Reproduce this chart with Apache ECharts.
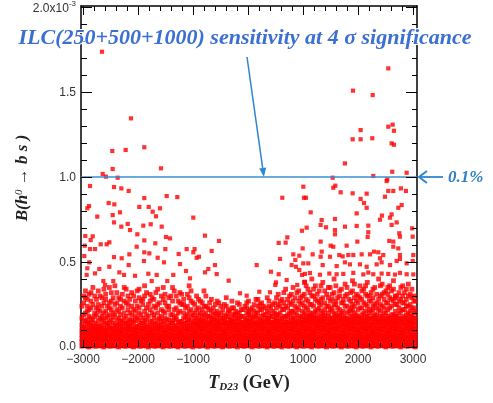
<!DOCTYPE html>
<html><head><meta charset="utf-8">
<script src="https://cdn.jsdelivr.net/npm/echarts@6/dist/echarts.min.js"></script>
<style>html,body{margin:0;padding:0;background:#fff}#c{width:493px;height:403px}</style>
</head><body><div id="c"></div>
<script>
// axis ticks / labels
const xTickStep = 1000, xMinorStep = 200;
const yTickStep = 0.5, yMinorStep = 0.1;
const yTopLabel = '2.0x10{s|-3}';
const sensitivity = 1.0; // in units of 1e-3 (0.1%)
const titleText = 'ILC(250+500+1000) sensitivity at 4 \u03c3 significance';
const lineLabel = '0.1%';

// points above the sensitivity line  [T_D23 (GeV), B x 1e3]
const highPts = [[-2654,1.737],[-2127,1.345],[-2467,1.153],[-2224,1.159],[-1885,1.175],[-2460,1.047],[-1582,1.051],[-2642,1.018],[-2582,1.002],[-2369,0.996],
[2551,1.639],[1909,1.508],[2267,1.482],[2630,1.308],[2551,1.296],[2654,1.272],[2048,1.276],[1903,1.222],[2048,1.222],[2260,1.228],[2612,1.198],[2654,1.19],[1763,1.08],[2623,1.031],[2885,1.025],[1540,0.996],[2278,1.006],[2533,0.986]];

// scattered points in the middle band
const midPts = [[-2872,.947],[-2436,.941],[-2303,.933],[-2169,.918],[-1478,.888],[-1285,.882],[-1885,.876],[-2533,.847],[-2430,.839],[-2890,.829],[-2921,.816],[-1976,.824],[-1805,.824],[-1600,.816],[-2327,.792],[-2460,.776],[-1733,.796],[-994,.761],[-2740,.767],[-1673,.769],[-2436,.733],[-2187,.724],[-1769,.722],[-1903,.714],[-2303,.708],[-1569,.708],[-2145,.688],[-2012,.663],[-2958,.653],[-2823,.651],[-1491,.647],[-1418,.639],[-2860,.629],[-1885,.627],[-2521,.616],[-2569,.604],[-2678,.604],[-1685,.61],[-2969,.596],[-2024,.59],[-2872,.576],[-2781,.576],[-1503,.576],[-1115,.576],[-1260,.547],[-2157,.545],[-2976,.535],[-1885,.557],[-1794,.551],[-994,.557],[-2436,.529],[-2296,.522],[-1642,.525],[-2885,.498],[-2169,.482],[-1891,.506],[-1527,.498],[-1236,.488],[-2781,.433],[-2521,.472],[-2921,.463],[-2703,.459],[-2339,.439],[-2254,.424],[-2054,.419],[-1812,.431],[-1660,.424],[-1358,.424],[-1127,.447],[-2933,.424],[-2630,.388],[-2449,.388],[-2599,.365],[-1751,.388],[-1467,.388],[-1054,.404],
[1006,.943],[624,.878],[1018,.878],[-782,.655],[-527,.624],[715,.645],[558,.612],[685,.614],[982,.684],[-970,.576],[-660,.565],[-891,.531],[994,.58],[-933,.525],[824,.545],[933,.537],[582,.518],[860,.512],[-600,.482],[158,.482],[794,.482],[873,.472],[-721,.459],[-782,.439],[-569,.429],[418,.443],[558,.428],[933,.453],[982,.424],[-351,.39],[703,.394],[509,.38],[497,.365],[896,.365],[1036,.384],[-145,.316],[-24,.302],[206,.325],[400,.322],
[2521,.976],[1551,.937],[1588,.949],[2551,.918],[2642,.918],[2781,.933],[2872,.918],[1685,.91],[1903,.904],[2158,.902],[1054,.878],[2490,.884],[2048,.871],[2109,.847],[2158,.819],[2733,.819],[2794,.835],[1140,.792],[1976,.786],[2612,.78],[2582,.761],[2436,.773],[2400,.749],[1340,.747],[1321,.718],[1582,.753],[1418,.704],[1763,.708],[1976,.712],[2188,.714],[2612,.718],[2703,.733],[2985,.698],[1067,.702],[1582,.688],[1582,.663],[2188,.675],[2176,.647],[2751,.669],[2763,.649],[2994,.649],[1321,.62],[1988,.62],[2569,.624],[2642,.62],[1503,.596],[1551,.59],[1794,.596],[2642,.59],[2733,.58],[1176,.545],[1340,.561],[1321,.531],[1491,.531],[1660,.541],[1721,.533],[1824,.541],[1915,.541],[2067,.545],[2218,.545],[2291,.561],[2369,.557],[2460,.541],[2400,.522],[2763,.541],[2763,.518],[3006,.541],[1006,.492],[1097,.492],[1358,.482],[1612,.476],[1763,.498],[1854,.486],[2036,.486],[2158,.472],[2339,.486],[2430,.498],[2582,.482],[2703,.506],[2885,.492],[2995,.506],
[1036,.43],[1127,.435],[1309,.425],[1479,.432],[1612,.428],[1733,.43],[1915,.436],[2097,.427],[2188,.438],[2278,.428],[2430,.432],[2551,.43],[2672,.426],[2763,.436],[2885,.428],[3006,.427]];

// dense lower band, read column by column: [T_D23, [B values]]
const denseCols = [
[-3020,[.005,.03,.05,.075,.1,.13,.17,.24]],
[-2955,[.01,.025,.045,.07,.09,.115,.15,.2,.29,.33]],
[-2890,[0,.02,.04,.065,.085,.11,.14,.18,.22,.31]],
[-2820,[.01,.03,.05,.07,.095,.12,.16,.25,.35]],
[-2755,[.005,.02,.045,.06,.08,.105,.13,.19,.23,.28]],
[-2690,[.01,.035,.055,.075,.1,.125,.17,.21,.3]],
[-2620,[0,.025,.04,.065,.09,.11,.15,.2,.26,.34]],
[-2555,[.01,.03,.05,.07,.095,.12,.14,.18,.24]],
[-2485,[.005,.02,.045,.065,.085,.11,.16,.22,.27,.32]],
[-2420,[.01,.035,.055,.08,.1,.13,.19,.25,.36]],
[-2350,[0,.025,.045,.06,.085,.105,.135,.17,.21,.29]],
[-2285,[.01,.03,.05,.075,.095,.12,.15,.23,.31]],
[-2215,[.005,.02,.04,.065,.09,.115,.14,.18,.26,.34]],
[-2150,[.01,.03,.055,.07,.1,.125,.16,.2,.28]],
[-2080,[0,.025,.045,.065,.085,.11,.145,.22,.3]],
[-2015,[.01,.035,.05,.075,.095,.12,.17,.24,.33]],
[-1945,[.005,.02,.045,.06,.09,.11,.14,.19,.27]],
[-1880,[.01,.03,.05,.07,.1,.125,.155,.21,.3,.36]],
[-1810,[0,.025,.04,.065,.085,.115,.18,.25]],
[-1745,[.01,.03,.055,.075,.095,.12,.15,.2,.29]],
[-1675,[.005,.02,.045,.065,.09,.11,.14,.23,.32]],
[-1610,[.01,.035,.05,.07,.1,.13,.17,.26]],
[-1540,[0,.025,.045,.06,.085,.115,.15,.21,.28,.35]],
[-1475,[.01,.03,.055,.075,.095,.12,.16,.24]],
[-1405,[.005,.02,.04,.065,.09,.11,.14,.19,.3]],
[-1340,[.01,.03,.05,.07,.1,.125,.17,.22,.33]],
[-1270,[0,.025,.045,.065,.085,.11,.145,.2,.27]],
[-1205,[.01,.035,.055,.075,.095,.12,.15,.25,.31]],
[-1135,[.005,.02,.045,.06,.09,.115,.14,.18,.23]],
[-1070,[.01,.03,.05,.07,.1,.125,.16,.21,.29,.36]],
[-1000,[0,.025,.04,.065,.085,.11,.14,.19,.26]],
[-935,[.01,.03,.055,.075,.095,.12,.14,.17,.22,.3]],
[-865,[.005,.02,.045,.065,.09,.11,.135,.16,.2,.27]],
[-800,[.01,.035,.05,.07,.1,.125,.15,.19,.24,.33]],
[-730,[0,.025,.045,.06,.085,.115,.14,.18,.23]],
[-665,[.01,.03,.055,.075,.095,.12,.145,.17,.21,.28]],
[-595,[.005,.02,.04,.065,.09,.11,.13,.16,.2,.25]],
[-530,[.01,.03,.05,.07,.1,.125,.15,.19,.26]],
[-460,[0,.025,.045,.065,.085,.105,.135,.17,.22]],
[-395,[.01,.035,.055,.075,.095,.12,.14,.18,.24,.29]],
[-325,[.005,.02,.045,.06,.09,.115,.14,.16,.21]],
[-260,[.01,.03,.05,.07,.1,.125,.15,.19,.23]],
[-190,[0,.025,.04,.065,.085,.11,.135,.17,.2,.26]],
[-125,[.01,.03,.055,.075,.095,.12,.145,.18,.22]],
[-55,[.005,.02,.045,.065,.09,.11,.13,.16,.24]],
[10,[.01,.035,.05,.07,.1,.125,.15,.19,.21,.27]],
[80,[0,.025,.045,.06,.085,.115,.14,.17,.23]],
[145,[.01,.03,.055,.075,.095,.12,.14,.18,.2,.28]],
[215,[.005,.02,.04,.065,.09,.11,.135,.16,.22,.25]],
[280,[.01,.03,.05,.07,.1,.125,.15,.19,.24]],
[350,[0,.025,.045,.065,.085,.11,.14,.17,.21,.29]],
[415,[.01,.035,.055,.075,.095,.12,.145,.18,.23]],
[485,[.005,.02,.045,.06,.09,.115,.14,.16,.2,.26]],
[550,[.01,.03,.05,.07,.1,.125,.15,.19,.25,.31]],
[620,[0,.025,.04,.065,.085,.11,.135,.17,.22,.28]],
[685,[.01,.03,.055,.075,.095,.12,.145,.18,.24,.34]],
[755,[.005,.02,.045,.065,.09,.11,.14,.2,.26,.3]],
[820,[.01,.035,.05,.07,.1,.125,.15,.17,.21,.27,.35]],
[890,[0,.025,.045,.06,.085,.115,.14,.19,.23,.32]],
[955,[.01,.03,.055,.075,.095,.12,.145,.18,.25,.29]],
[1025,[.005,.02,.04,.065,.09,.11,.135,.16,.2,.24,.31,.38]],
[1090,[.01,.03,.05,.07,.1,.125,.15,.175,.22,.27,.34]],
[1160,[0,.025,.045,.065,.085,.11,.14,.165,.19,.25,.3,.4]],
[1225,[.01,.035,.055,.075,.095,.12,.145,.17,.21,.28,.36]],
[1295,[.005,.02,.045,.06,.09,.115,.14,.16,.23,.26,.33]],
[1360,[.01,.03,.05,.07,.1,.125,.15,.18,.2,.29,.38]],
[1430,[0,.025,.04,.065,.085,.11,.135,.165,.24,.31]],
[1495,[.01,.03,.055,.075,.095,.12,.145,.17,.22,.27,.35]],
[1565,[.005,.02,.045,.065,.09,.11,.14,.16,.19,.25,.32,.4]],
[1630,[.01,.035,.05,.07,.1,.125,.15,.18,.23,.29]],
[1700,[0,.025,.045,.06,.085,.115,.14,.165,.2,.26,.34]],
[1765,[.01,.03,.055,.075,.095,.12,.145,.17,.24,.3,.37]],
[1835,[.005,.02,.04,.065,.09,.11,.135,.16,.21,.28]],
[1900,[.01,.03,.05,.07,.1,.125,.15,.18,.22,.25,.33,.39]],
[1970,[0,.025,.045,.065,.085,.11,.14,.165,.19,.27,.31]],
[2035,[.01,.035,.055,.075,.095,.12,.145,.17,.23,.29,.36]],
[2105,[.005,.02,.045,.06,.09,.115,.14,.16,.2,.26,.34]],
[2170,[.01,.03,.05,.07,.1,.125,.15,.18,.24,.3,.38]],
[2240,[0,.025,.04,.065,.085,.11,.135,.165,.21,.27,.32]],
[2305,[.01,.03,.055,.075,.095,.12,.145,.17,.19,.25,.35]],
[2375,[.005,.02,.045,.065,.09,.11,.14,.16,.22,.28,.4]],
[2440,[.01,.035,.05,.07,.1,.125,.15,.18,.24,.31,.37]],
[2510,[0,.025,.045,.06,.085,.115,.14,.165,.2,.26,.33]],
[2575,[.01,.03,.055,.075,.095,.12,.145,.17,.23,.29,.36]],
[2645,[.005,.02,.04,.065,.09,.11,.135,.16,.19,.27,.34,.39]],
[2710,[.01,.03,.05,.07,.1,.125,.15,.18,.25,.3]],
[2780,[0,.025,.045,.065,.085,.11,.14,.165,.21,.28,.35]],
[2845,[.01,.035,.055,.075,.095,.12,.145,.17,.22,.26,.32]],
[2915,[.005,.02,.045,.06,.09,.115,.14,.16,.2,.24,.3,.37]],
[2980,[.01,.03,.05,.07,.1,.125,.15,.18,.23,.29,.34]],
[3040,[0,.025,.045,.065,.085,.11,.14,.17,.21,.27]]
];

// second pass of the dense band, between the columns above
const denseCols2 = [
[-2988,[.015,.04,.06,.085,.105,.12,.155,.19,.26,.3]],
[-2922,[.005,.035,.055,.08,.1,.135,.16,.21,.24,.28]],
[-2855,[.015,.04,.06,.08,.105,.125,.145,.17,.23,.27,.32]],
[-2788,[.005,.03,.055,.085,.11,.14,.18,.2,.3]],
[-2722,[.015,.045,.065,.08,.1,.12,.155,.22,.25,.33]],
[-2655,[.005,.035,.06,.085,.105,.13,.16,.18,.24,.29]],
[-2588,[.015,.04,.06,.08,.1,.135,.17,.21,.28,.31]],
[-2520,[.005,.03,.055,.075,.105,.125,.15,.19,.23,.26,.35]],
[-2452,[.015,.045,.065,.09,.11,.14,.175,.2,.29]],
[-2385,[.005,.035,.06,.08,.105,.13,.16,.22,.26,.32]],
[-2318,[.015,.04,.06,.085,.1,.125,.155,.19,.24,.28]],
[-2250,[.005,.03,.055,.075,.105,.14,.17,.2,.27,.35]],
[-2182,[.015,.045,.065,.09,.11,.13,.15,.22,.25,.3]],
[-2115,[.005,.035,.06,.08,.105,.135,.16,.19,.24,.32]],
[-2048,[.015,.04,.06,.085,.1,.12,.155,.18,.21,.27]],
[-1980,[.005,.03,.055,.075,.105,.13,.16,.2,.23,.29,.34]],
[-1912,[.015,.045,.065,.09,.11,.14,.17,.25,.28]],
[-1845,[.005,.035,.06,.08,.105,.13,.16,.19,.23,.32]],
[-1778,[.015,.04,.06,.085,.1,.125,.15,.22,.27,.31]],
[-1710,[.005,.03,.055,.075,.105,.135,.17,.19,.24,.28]],
[-1642,[.015,.045,.065,.09,.11,.13,.16,.2,.25,.34]],
[-1575,[.005,.035,.06,.08,.105,.125,.15,.18,.22,.3]],
[-1508,[.015,.04,.06,.085,.1,.135,.17,.2,.26,.31]],
[-1440,[.005,.03,.055,.075,.105,.13,.16,.22,.24,.29]],
[-1372,[.015,.045,.065,.09,.11,.14,.155,.19,.27,.35]],
[-1305,[.005,.035,.06,.08,.105,.125,.16,.18,.23,.3]],
[-1238,[.015,.04,.06,.085,.1,.13,.15,.21,.26,.32]],
[-1170,[.005,.03,.055,.075,.105,.135,.17,.2,.25,.28]],
[-1102,[.015,.045,.065,.09,.11,.14,.16,.19,.24,.31]],
[-1035,[.005,.035,.06,.08,.105,.125,.15,.18,.22,.27,.33]],
[-968,[.015,.04,.06,.085,.1,.13,.15,.17,.2,.25]],
[-900,[.005,.03,.055,.075,.105,.125,.14,.16,.19,.23,.28]],
[-832,[.015,.045,.065,.09,.11,.13,.155,.18,.22,.26]],
[-765,[.005,.035,.06,.08,.105,.125,.145,.17,.2,.24,.3]],
[-698,[.015,.04,.06,.085,.1,.13,.15,.18,.22,.26]],
[-630,[.005,.03,.055,.075,.105,.125,.145,.165,.19,.23]],
[-562,[.015,.045,.065,.09,.11,.135,.155,.18,.21,.27]],
[-495,[.005,.035,.06,.08,.105,.125,.145,.17,.2,.24]],
[-428,[.015,.04,.06,.085,.1,.13,.15,.16,.19,.25]],
[-360,[.005,.03,.055,.075,.105,.125,.145,.175,.2,.22]],
[-292,[.015,.045,.065,.09,.11,.135,.155,.18,.23,.27]],
[-225,[.005,.035,.06,.08,.105,.125,.145,.165,.19,.21]],
[-158,[.015,.04,.06,.085,.1,.13,.15,.17,.2,.25]],
[-90,[.005,.03,.055,.075,.105,.125,.145,.18,.22]],
[-22,[.015,.045,.065,.09,.11,.135,.155,.17,.2,.23,.26]],
[45,[.005,.035,.06,.08,.105,.125,.145,.165,.19,.22]],
[112,[.015,.04,.06,.085,.1,.13,.15,.18,.21,.25]],
[180,[.005,.03,.055,.075,.105,.125,.145,.17,.2,.24,.28]],
[248,[.015,.045,.065,.09,.11,.135,.155,.18,.22,.26]],
[315,[.005,.035,.06,.08,.105,.125,.145,.165,.19,.23]],
[382,[.015,.04,.06,.085,.1,.13,.15,.17,.2,.24,.27]],
[450,[.005,.03,.055,.075,.105,.125,.145,.18,.21,.25]],
[518,[.015,.045,.065,.09,.11,.135,.155,.17,.19,.23,.29]],
[585,[.005,.035,.06,.08,.105,.125,.145,.165,.2,.24,.27]],
[652,[.015,.04,.06,.085,.1,.13,.15,.18,.22,.26,.32]],
[720,[.005,.03,.055,.075,.105,.125,.145,.17,.19,.23,.28]],
[788,[.015,.045,.065,.09,.11,.135,.155,.18,.21,.25,.31]],
[855,[.005,.035,.06,.08,.105,.125,.145,.165,.2,.24,.29]],
[922,[.015,.04,.06,.085,.1,.13,.15,.17,.22,.27,.33]],
[990,[.005,.03,.055,.075,.105,.125,.145,.16,.18,.21,.26,.3]],
[1058,[.015,.045,.065,.09,.11,.135,.155,.17,.19,.23,.28,.36]],
[1125,[.005,.035,.06,.08,.105,.125,.145,.16,.18,.2,.25,.32]],
[1192,[.015,.04,.06,.085,.1,.13,.15,.175,.2,.24,.3,.34]],
[1260,[.005,.03,.055,.075,.105,.125,.145,.17,.19,.22,.27,.31]],
[1328,[.015,.045,.065,.09,.11,.135,.155,.18,.21,.25,.28,.36]],
[1395,[.005,.035,.06,.08,.105,.125,.15,.17,.19,.22,.26,.33]],
[1462,[.015,.04,.06,.085,.1,.13,.15,.18,.2,.24,.29,.35]],
[1530,[.005,.03,.055,.075,.105,.125,.145,.17,.21,.23,.28,.31]],
[1598,[.015,.045,.065,.09,.11,.135,.155,.18,.2,.25,.27,.36]],
[1665,[.005,.035,.06,.08,.105,.125,.15,.17,.19,.22,.3,.33]],
[1732,[.015,.04,.06,.085,.1,.13,.155,.18,.21,.26,.28]],
[1800,[.005,.03,.055,.075,.105,.125,.145,.17,.2,.24,.31,.35]],
[1868,[.015,.045,.065,.09,.11,.135,.155,.18,.21,.23,.27,.32]],
[1935,[.005,.035,.06,.08,.105,.125,.15,.17,.2,.24,.29,.37]],
[2002,[.015,.04,.06,.085,.1,.13,.155,.18,.22,.26,.3]],
[2070,[.005,.03,.055,.075,.105,.125,.145,.17,.19,.23,.28,.33]],
[2138,[.015,.045,.065,.09,.11,.135,.155,.18,.21,.25,.31,.36]],
[2205,[.005,.035,.06,.08,.105,.125,.15,.17,.2,.22,.27,.3]],
[2272,[.015,.04,.06,.085,.1,.13,.155,.18,.22,.24,.29,.34]],
[2340,[.005,.03,.055,.075,.105,.125,.145,.17,.19,.23,.26,.31]],
[2408,[.015,.045,.065,.09,.11,.135,.155,.18,.21,.25,.3,.36]],
[2475,[.005,.035,.06,.08,.105,.125,.15,.17,.2,.23,.28,.32]],
[2542,[.015,.04,.06,.085,.1,.13,.155,.18,.22,.26,.31,.35]],
[2610,[.005,.03,.055,.075,.105,.125,.145,.17,.19,.24,.28,.33]],
[2678,[.015,.045,.065,.09,.11,.135,.155,.18,.21,.25,.29,.3]],
[2745,[.005,.035,.06,.08,.105,.125,.15,.17,.2,.23,.27,.32]],
[2812,[.015,.04,.06,.085,.1,.13,.155,.18,.22,.26,.3,.36]],
[2880,[.005,.03,.055,.075,.105,.125,.145,.17,.19,.24,.28,.34]],
[2948,[.015,.045,.065,.09,.11,.135,.155,.18,.21,.25,.31]],
[3015,[.005,.035,.06,.08,.105,.125,.15,.17,.2,.23,.27,.3]]
];

const X_MIN = -3036, X_MAX = 3073, Y_MIN = 0, Y_MAX = 2.006;
const T_XMIN = -3000, T_XMAX = 3000, T_YMIN = 0, T_YMAX = 2.0;

const sparsePoints = highPts.concat(midPts);
const densePoints = [];
denseCols.concat(denseCols2).forEach(c => c[1].forEach(y => densePoints.push([c[0], y])));

const BLUE = '#2f86cf';
const LBL = {color: '#333', fontSize: 12, fontFamily: 'Liberation Sans'};
const frameLine = {show: true, onZero: false, lineStyle: {color: '#000', width: 1.5}};
const noLine = {show: false, onZero: false};
const hidden = {axisTick: {show: false}, splitLine: {show: false}};

const chart = echarts.init(document.getElementById('c'), null, {renderer: 'canvas'});
chart.setOption({
  animation: false,
  backgroundColor: '#fff',
  grid: [
    {left: 81, right: 76, top: 6, bottom: 56, containLabel: false},
    {left: 83, right: 80, top: 7, bottom: 56, containLabel: false}
  ],
  xAxis: [
    Object.assign({gridIndex: 0, type: 'value', position: 'bottom', min: X_MIN, max: X_MAX, axisLine: frameLine, axisLabel: {show: false}}, hidden),
    Object.assign({gridIndex: 0, type: 'value', position: 'top', min: X_MIN, max: X_MAX, axisLine: frameLine, axisLabel: {show: false}}, hidden),
    Object.assign({gridIndex: 1, type: 'value', position: 'bottom', min: T_XMIN, max: T_XMAX, interval: xTickStep, axisLine: noLine,
      axisLabel: Object.assign({show: true, margin: 7, formatter: v => (v < 0 ? '\u2212' + (-v) : '' + v)}, LBL)}, hidden)
  ],
  yAxis: [
    Object.assign({gridIndex: 0, type: 'value', position: 'left', min: Y_MIN, max: Y_MAX, axisLine: frameLine, axisLabel: {show: false}}, hidden),
    Object.assign({gridIndex: 0, type: 'value', position: 'right', min: Y_MIN, max: Y_MAX, axisLine: frameLine, axisLabel: {show: false}}, hidden),
    Object.assign({gridIndex: 1, type: 'value', position: 'left', offset: 2, min: T_YMIN, max: T_YMAX, interval: yTickStep, axisLine: noLine,
      axisLabel: Object.assign({show: true, margin: 5, formatter: v => (v === 2 ? yTopLabel : v.toFixed(1)),
        rich: {s: {fontSize: 8, color: '#333', fontFamily: 'Liberation Sans', padding: [0, 0, 9, 0]}}}, LBL)}, hidden)
  ],
  series: [{
    type: 'scatter', xAxisIndex: 0, yAxisIndex: 0, data: densePoints,
    symbol: 'rect', symbolSize: 4.8, itemStyle: {color: '#ff0000'}, clip: true, silent: true
  }, {
    type: 'scatter', xAxisIndex: 0, yAxisIndex: 0, data: sparsePoints,
    symbol: 'rect', symbolSize: 4.2, itemStyle: {color: '#ff0000'}, clip: true, silent: true,
    markLine: {silent: true, symbol: ['none', 'none'], label: {show: false},
      lineStyle: {color: '#3a8fd3', width: 1.5, type: 'solid'}, data: [{yAxis: sensitivity}]}
  }]
});

// frame tick marks, placed through the data axes
const X = v => chart.convertToPixel({xAxisIndex: 0}, v);
const Y = v => chart.convertToPixel({yAxisIndex: 0}, v);
const bottomY = Y(Y_MIN), topY = Y(Y_MAX), leftX = X(X_MIN), rightX = X(X_MAX);
const gfx = [];
const tick = (x1, y1, x2, y2) => gfx.push({type: 'line', silent: true, z: 60,
  shape: {x1: x1, y1: y1, x2: x2, y2: y2}, style: {stroke: '#000', lineWidth: 1}});
const crisp = p => Math.round(p) + 0.5;
for (let v = T_XMIN; v <= T_XMAX; v += xMinorStep) {
  const major = v % xTickStep === 0, p = crisp(X(v));
  tick(p, bottomY, p, bottomY - (major ? 7 : 4));
  tick(p, topY, p, topY + (major ? 9 : 5));
}
for (let i = 0; i <= Math.round((T_YMAX - T_YMIN) / yMinorStep); i++) {
  const v = T_YMIN + i * yMinorStep, major = i % 5 === 0, p = crisp(Y(v));
  tick(leftX, p, leftX + (major ? 11 : 6), p);
  tick(rightX, p, rightX - (major ? 11 : 5), p);
}

const tip = [X(290), Y(sensitivity)];
const yLine = tip[1];
const ax = 247, ay = 57;
const ang = Math.atan2(tip[1] - ay, tip[0] - ax);
const hl = 9, hw = 3.5;
const bx = tip[0] - hl * Math.cos(ang), by = tip[1] - hl * Math.sin(ang);
const px = -Math.sin(ang), py = Math.cos(ang);

gfx.push(
  {type: 'line', shape: {x1: ax, y1: ay, x2: bx, y2: by}, style: {stroke: BLUE, lineWidth: 1.5}, z: 100},
  {type: 'polygon', shape: {points: [[tip[0], tip[1]], [bx + px * hw, by + py * hw], [bx - px * hw, by - py * hw]]}, style: {fill: BLUE}, z: 100},
  {type: 'text', x: 245, y: 38, z: 101, style: {text: titleText, fill: '#3b6fd2', font: 'italic bold 22px "Liberation Serif"',
    align: 'center', verticalAlign: 'middle', stroke: '#fff', lineWidth: 2}},
  {type: 'line', shape: {x1: rightX + 26, y1: yLine, x2: rightX + 2, y2: yLine}, style: {stroke: BLUE, lineWidth: 1.8}, z: 100},
  {type: 'polyline', shape: {points: [[rightX + 10, yLine - 6], [rightX + 2, yLine], [rightX + 10, yLine + 6]]}, style: {stroke: BLUE, lineWidth: 2, fill: null}, z: 100},
  {type: 'text', x: 448, y: yLine + 1, z: 101, style: {text: lineLabel, fill: '#2f7fc4', font: 'italic bold 17px "Liberation Serif"', align: 'left', verticalAlign: 'middle'}},
  {type: 'text', x: 23, y: 178, rotation: Math.PI / 2, z: 101, style: {
    text: '{i|B(h}{s|0}{n| \u2192 }{i|b s )}', align: 'center', verticalAlign: 'middle',
    rich: {
      i: {font: 'italic bold 17px "Liberation Serif"', fill: '#222'},
      s: {font: 'italic 11px "Liberation Serif"', fill: '#222', padding: [0, 0, 8, 0]},
      n: {font: 'bold 17px "Liberation Serif"', fill: '#222'}
    }}},
  {type: 'text', x: 249, y: 383, z: 101, style: {
    text: '{t|T}{d|D23}{n| (GeV)}', align: 'center', verticalAlign: 'middle',
    rich: {
      t: {font: 'italic bold 18px "Liberation Serif"', fill: '#222'},
      d: {font: 'italic bold 11px "Liberation Serif"', fill: '#222', padding: [8, 0, 0, 0]},
      n: {font: 'bold 18px "Liberation Serif"', fill: '#222'}
    }}}
);
chart.setOption({graphic: gfx});
</script>
</body></html>
